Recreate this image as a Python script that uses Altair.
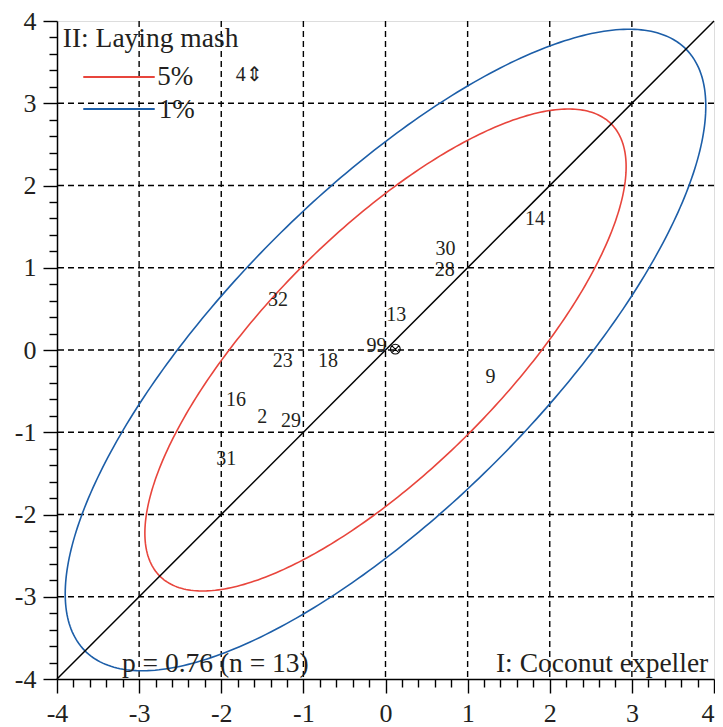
import altair as alt
import pandas as pd
import numpy as np

# ---- data ----
point_labels = ["4⇕", "30", "28", "14", "32", "13", "99", "23", "18", "9", "16", "2", "29", "31"]
point_x = [-1.66, 0.73, 0.72, 1.82, -1.31, 0.13, -0.11, -1.25, -0.70, 1.28, -1.82, -1.50, -1.15, -1.94]
point_y = [3.34, 1.23, 0.97, 1.59, 0.61, 0.42, 0.05, -0.13, -0.13, -0.33, -0.61, -0.82, -0.86, -1.32]

mean_x = [0.12]
mean_y = [0.01]

rho = 0.76
ellipse_levels = ["5%", "1%"]
ellipse_radius = [2.93, 3.90]
ellipse_colors = ["#e8453c", "#1c5ea8"]

grid_values = [-3, -2, -1, 0, 1, 2, 3]
diag_x = [-4, 4]
diag_y = [-4, 4]

legend_title = "II: Laying mash"
legend_title_pos = [-3.93, 3.68]
legend_line_x = [-3.68, -2.81]
legend_line_y = [3.32, 2.93]
legend_text_x = [-2.78, -2.76]
legend_text_y = [3.22, 2.82]

stat_text = "p = 0.76 (n = 13)"
stat_pos = [-3.21, -3.91]
xname_text = "I: Coconut expeller"
xname_pos = [3.93, -3.91]

tick_values = [round(v, 1) for v in np.arange(-4, 4.001, 0.2)]

FONT = "Liberation Serif"
INK = "#231f20"

# ---- tables ----
pts = pd.DataFrame({"x": point_x, "y": point_y, "label": point_labels})
mean_df = pd.DataFrame({"x": mean_x, "y": mean_y})
diag = pd.DataFrame({"x": diag_x, "y": diag_y})
grid = pd.DataFrame({"v": grid_values})

t = np.linspace(0, 2 * np.pi, 361)
rows = []
for lev, s in zip(ellipse_levels, ellipse_radius):
    for i, tt in enumerate(t):
        rows.append({"level": lev, "i": i,
                     "x": s * np.cos(tt),
                     "y": s * (rho * np.cos(tt) + np.sqrt(1 - rho ** 2) * np.sin(tt))})
ell = pd.DataFrame(rows)

leg_lines = pd.DataFrame({"level": ellipse_levels, "x": [legend_line_x[0]] * 2,
                          "x2": [legend_line_x[1]] * 2, "y": legend_line_y})
leg_text = pd.DataFrame({"label": ellipse_levels, "x": legend_text_x, "y": legend_text_y})
left_notes = pd.DataFrame({"label": [legend_title, stat_text],
                           "x": [legend_title_pos[0], stat_pos[0]],
                           "y": [legend_title_pos[1], stat_pos[1]]})
right_notes = pd.DataFrame({"label": [xname_text], "x": [xname_pos[0]], "y": [xname_pos[1]]})

major = "abs(datum.value - round(datum.value)) < 0.01"
tick_size = {"condition": {"test": major, "value": 14}, "value": 8}

xscale = alt.Scale(domain=[-4, 4], nice=False, zero=False)
yscale = alt.Scale(domain=[-4, 4], nice=False, zero=False)

def axis(last_right=False):
    kw = dict(values=tick_values, title=None, grid=False,
              labelExpr=f"({major}) ? toString(round(datum.value)) : ''",
              tickSize=tick_size, tickColor="black", tickWidth=1.4,
              domainColor="black", domainWidth=1.5,
              labelFont=FONT, labelFontSize=26, labelColor=INK,
              labelPadding=7, labelFlush=False, labelOverlap=False)
    if last_right:
        kw["labelAlign"] = {"condition": {"test": "datum.value > 3.9", "value": "right"},
                            "value": "center"}
    return alt.Axis(**kw)

X = alt.X("x:Q", scale=xscale, axis=axis(True))
Y = alt.Y("y:Q", scale=yscale, axis=axis())

vgrid = alt.Chart(grid).mark_rule(color="black", strokeDash=[6, 4], strokeWidth=1.4).encode(
    x=alt.X("v:Q", scale=xscale, axis=axis(True)))
hgrid = alt.Chart(grid).mark_rule(color="black", strokeDash=[6, 4], strokeWidth=1.4).encode(
    y=alt.Y("v:Q", scale=yscale, axis=axis()))

color = alt.Color("level:N", scale=alt.Scale(domain=ellipse_levels, range=ellipse_colors), legend=None)

ellipses = alt.Chart(ell).mark_line(strokeWidth=1.6).encode(
    x=X, y=Y, color=color, order="i:Q", detail="level:N")

diagonal = alt.Chart(diag).mark_line(color="black", strokeWidth=1.5).encode(x=X, y=Y)

labels = alt.Chart(pts).mark_text(font=FONT, fontSize=20, color=INK, align="center",
                                  baseline="middle").encode(x=X, y=Y, text="label:N")

mean_mark = alt.Chart(mean_df).mark_point(
    shape="M-1,0A1,1,0,1,1,1,0A1,1,0,1,1,-1,0ZM-0.7,-0.7L0.7,0.7M-0.7,0.7L0.7,-0.7",
    size=95, filled=False, color="black", strokeWidth=1.1, opacity=1).encode(x=X, y=Y)

leg_rules = alt.Chart(leg_lines).mark_rule(strokeWidth=2).encode(
    x=X, x2="x2:Q", y=Y, color=color)
leg_labels = alt.Chart(leg_text).mark_text(font=FONT, fontSize=27, color=INK, align="left",
                                           baseline="alphabetic").encode(x=X, y=Y, text="label:N")
notes_l = alt.Chart(left_notes).mark_text(font=FONT, fontSize=27.5, color=INK, align="left",
                                          baseline="alphabetic").encode(x=X, y=Y, text="label:N")
notes_r = alt.Chart(right_notes).mark_text(font=FONT, fontSize=27.5, color=INK, align="right",
                                           baseline="alphabetic").encode(x=X, y=Y, text="label:N")

chart = alt.layer(vgrid, hgrid, ellipses, diagonal, labels, mean_mark,
                  leg_rules, leg_labels, notes_l, notes_r).properties(
    width=657, height=658,
    autosize=alt.AutoSizeParams(type="none"),
    padding={"left": 49, "top": 13, "right": 1, "bottom": 48},
).configure_view(stroke="black", strokeWidth=1.5).configure(background="white")

chart.save("out.html", embed_options={"renderer": "svg", "actions": False})
